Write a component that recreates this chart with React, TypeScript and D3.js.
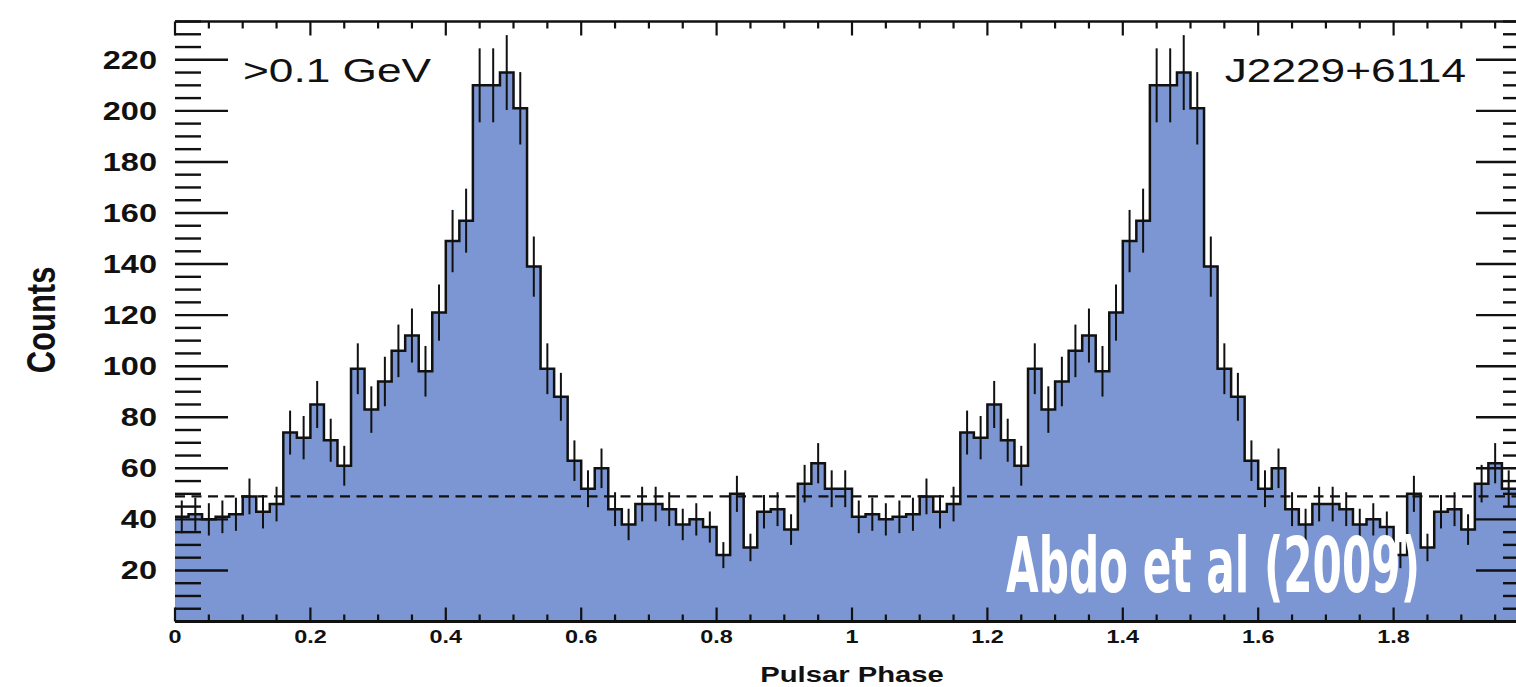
import React from 'react';
import * as d3 from 'd3';

const W = 1516;
const H = 687;

// Counts per 0.02-wide phase bin for one rotation (phase 0 - 1); the plot shows two rotations.
const countsCycle = [
  41, 42, 40, 41, 42, 49, 43, 46, 74, 72,
  85, 71, 61, 99, 83, 94, 106, 112, 98, 121,
  149, 157, 210, 210, 215, 201, 139, 99, 88, 63,
  52, 60, 44, 38, 46, 46, 44, 38, 40, 37,
  26, 50, 29, 43, 44, 36, 54, 62, 52, 52,
];
const binWidth = 0.02;
const backgroundLevel = 49;

const yTickValues = [20, 40, 60, 80, 100, 120, 140, 160, 180, 200, 220];
const xTickValues = [0, 0.2, 0.4, 0.6, 0.8, 1, 1.2, 1.4, 1.6, 1.8];
const xTickLabels = ['0', '0.2', '0.4', '0.6', '0.8', '1', '1.2', '1.4', '1.6', '1.8'];

const energyLabel = '>0.1 GeV';
const pulsarName = 'J2229+6114';
const creditLabel = 'Abdo et al (2009)';
const xTitle = 'Pulsar Phase';
const yTitle = 'Counts';

const FILL = '#7b96d2';
const INK = '#111';
const FONT = "'Liberation Sans', Arial, Helvetica, sans-serif";
const STRETCH = 1.3;

export default function App() {
  const x = d3.scaleLinear().domain([0, 2]).range([175, 1529]);
  const y = d3.scaleLinear().domain([0, 235]).range([621.5, 21.5]);

  const counts = [...countsCycle, ...countsCycle];
  const bins = counts.map((c, i) => ({ x0: i * binWidth, x1: (i + 1) * binWidth, c }));
  const last = bins[bins.length - 1];
  const pts: [number, number][] = [...bins.map((b) => [b.x0, b.c] as [number, number]), [last.x1, last.c]];

  const line = d3
    .line<[number, number]>()
    .x((d) => x(d[0]))
    .y((d) => y(d[1]))
    .curve(d3.curveStepAfter);
  const area = d3
    .area<[number, number]>()
    .x((d) => x(d[0]))
    .y0(y(0))
    .y1((d) => y(d[1]))
    .curve(d3.curveStepAfter);

  const [x0, x1] = x.range();
  const [yb, yt] = y.range();

  const xMinor = d3.range(0, 2.0001, 0.05).filter((v) => Math.abs(v / 0.2 - Math.round(v / 0.2)) > 1e-6);
  const xMajor = d3.range(0, 2.0001, 0.2);
  const yMinor = d3.range(5, 236, 5).filter((v) => v % 20 !== 0);
  const yMajor = d3.range(0, 236, 20);

  return (
    <div style={{ position: 'absolute', left: 0, top: 0 }}>
      <svg width={W} height={H} style={{ display: 'block', background: '#fff' }}>
        {/* histogram fill */}
        <path d={area(pts) || ''} fill={FILL} stroke="none" />

        {/* background level */}
        <line
          x1={x0}
          x2={x1}
          y1={y(backgroundLevel)}
          y2={y(backgroundLevel)}
          stroke={INK}
          strokeWidth={2.2}
          strokeDasharray="10 6.5"
        />

        {/* error bars */}
        {bins.map((b, i) => {
          const e = Math.sqrt(b.c);
          const cx = x((b.x0 + b.x1) / 2);
          return <line key={'e' + i} x1={cx} x2={cx} y1={y(b.c - e)} y2={y(b.c + e)} stroke={INK} strokeWidth={2} />;
        })}

        {/* histogram outline */}
        <path d={line(pts) || ''} fill="none" stroke={INK} strokeWidth={2.5} strokeLinejoin="miter" />

        {/* axes frame */}
        <line x1={x0} x2={x1} y1={yt} y2={yt} stroke={INK} strokeWidth={2.5} />
        <line x1={x0} x2={x1} y1={yb} y2={yb} stroke={INK} strokeWidth={3} />

        {/* x ticks (top and bottom) */}
        {xMajor.map((v, i) => (
          <g key={'xM' + i}>
            <line x1={x(v)} x2={x(v)} y1={yt} y2={yt + 14} stroke={INK} strokeWidth={2.2} />
            <line x1={x(v)} x2={x(v)} y1={yb} y2={yb - 14} stroke={INK} strokeWidth={2.2} />
          </g>
        ))}
        {xMinor.map((v, i) => (
          <g key={'xm' + i}>
            <line x1={x(v)} x2={x(v)} y1={yt} y2={yt + 7} stroke={INK} strokeWidth={2.2} />
            <line x1={x(v)} x2={x(v)} y1={yb} y2={yb - 7} stroke={INK} strokeWidth={2.2} />
          </g>
        ))}

        {/* y ticks (left and right) */}
        {yMajor.map((v, i) => (
          <g key={'yM' + i}>
            <line x1={x0} x2={x0 + 53} y1={y(v)} y2={y(v)} stroke={INK} strokeWidth={2.4} />
            <line x1={x1} x2={x1 - 53} y1={y(v)} y2={y(v)} stroke={INK} strokeWidth={2.4} />
          </g>
        ))}
        {yMinor.map((v, i) => (
          <g key={'ym' + i}>
            <line x1={x0} x2={x0 + 26} y1={y(v)} y2={y(v)} stroke={INK} strokeWidth={2.4} />
            <line x1={x1} x2={x1 - 26} y1={y(v)} y2={y(v)} stroke={INK} strokeWidth={2.4} />
          </g>
        ))}

        {/* y tick labels */}
        {yTickValues.map((v) => (
          <text
            key={'yl' + v}
            transform={`translate(157,${y(v)}) scale(${STRETCH},1)`}
            textAnchor="end"
            dy="0.36em"
            fontFamily={FONT}
            fontWeight="bold"
            fontSize={25}
            fill={INK}
          >
            {v}
          </text>
        ))}

        {/* x tick labels */}
        {xTickValues.map((v, i) => (
          <text
            key={'xl' + i}
            transform={`translate(${x(v)},643) scale(${STRETCH},1)`}
            textAnchor="middle"
            fontFamily={FONT}
            fontWeight="bold"
            fontSize={18}
            fill={INK}
          >
            {xTickLabels[i]}
          </text>
        ))}

        {/* axis titles */}
        <text
          transform={`translate(${(x0 + x1) / 2},682) scale(${STRETCH},1)`}
          textAnchor="middle"
          fontFamily={FONT}
          fontWeight="bold"
          fontSize={22.5}
          fill={INK}
        >
          {xTitle}
        </text>
        <text
          transform={`translate(55,320) rotate(-90) scale(1,${STRETCH})`}
          textAnchor="middle"
          fontFamily={FONT}
          fontWeight="bold"
          fontSize={31}
          fill={INK}
        >
          {yTitle}
        </text>

        {/* annotations */}
        <text
          transform={`translate(243,82) scale(${STRETCH},1)`}
          fontFamily={FONT}
          fontSize={34}
          fill={INK}
        >
          {energyLabel}
        </text>
        <text
          transform={`translate(1466,82) scale(${STRETCH},1)`}
          textAnchor="end"
          fontFamily={FONT}
          fontSize={34}
          fill={INK}
        >
          {pulsarName}
        </text>

        {/* credit watermark */}
        <text
          transform="translate(1006,592) scale(1,1.9)"
          textLength={414}
          lengthAdjust="spacingAndGlyphs"
          fontFamily="'DejaVu Sans Condensed', 'Liberation Sans Narrow', 'Liberation Sans', sans-serif"
          fontWeight="bold"
          fontSize={40}
          fill="#fff"
        >
          {creditLabel}
        </text>
      </svg>
    </div>
  );
}
